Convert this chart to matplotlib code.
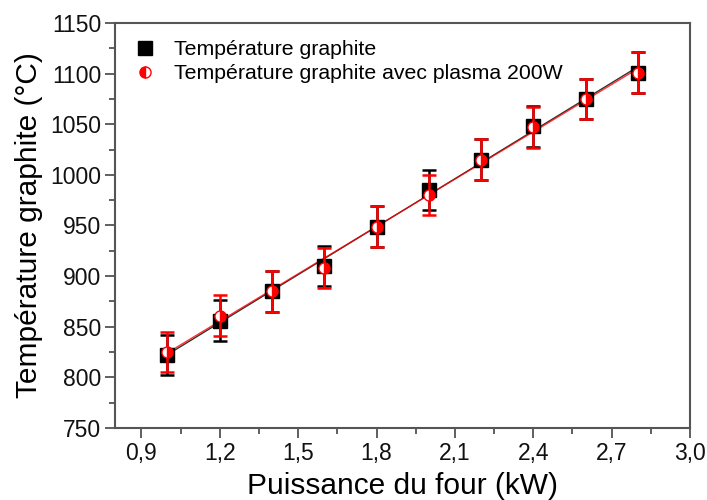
import matplotlib
matplotlib.use('Agg')
import matplotlib.pyplot as plt
from matplotlib.lines import Line2D
from matplotlib.ticker import MultipleLocator, FuncFormatter
import numpy as np

plt.rcParams['font.family'] = ['Liberation Sans', 'DejaVu Sans']

# data
puissance = [1.0, 1.2, 1.4, 1.6, 1.8, 2.0, 2.2, 2.4, 2.6, 2.8]
temp_graphite = [822, 856, 885, 910, 949, 985, 1015, 1048, 1075, 1101]
err_graphite = [20, 20, 20, 20, 20, 20, 20, 20, 20, 20]
temp_plasma = [825, 861, 885, 908, 949, 980, 1015, 1047, 1075, 1101]
err_plasma = [20, 20, 20, 20, 20, 20, 20, 20, 20, 20]

fig = plt.figure(figsize=(7.07, 5.0), dpi=100)
ax = fig.add_axes([0.163, 0.144, 0.813, 0.81])

x = np.array(puissance)

# linear fits
for yv, c in [(temp_graphite, 'black'), (temp_plasma, 'red')]:
    p = np.polyfit(x, yv, 1)
    ax.plot(x, np.polyval(p, x), color=c, lw=1.0, alpha=0.8, zorder=2)

ax.errorbar(x, temp_graphite, yerr=err_graphite, fmt='s', color='black',
            ms=10, ecolor='black', elinewidth=1.8, capsize=5, capthick=1.8, zorder=3)
ax.errorbar(x, temp_plasma, yerr=err_plasma, fmt='o', color='red',
            ms=8, mfc='red', mfcalt='white', fillstyle='right', mec='red',
            ecolor='red', elinewidth=1.8, capsize=5, capthick=1.8, zorder=4)

ax.set_xlim(0.8, 3.0)
ax.set_ylim(750, 1150)
ax.xaxis.set_major_locator(MultipleLocator(0.3))
ax.xaxis.set_minor_locator(MultipleLocator(0.15))
ax.yaxis.set_major_locator(MultipleLocator(50))
ax.yaxis.set_minor_locator(MultipleLocator(25))
ax.xaxis.set_major_formatter(FuncFormatter(lambda v, pos: ('%.1f' % v).replace('.', ',')))

ax.tick_params(which='major', direction='out', length=7, width=1.2, labelsize=16.5, colors='#444444')
ax.tick_params(which='minor', direction='out', length=4, width=1.2, colors='#444444')
ax.tick_params(axis='both', labelcolor='#111111', pad=3)
for s in ax.spines.values():
    s.set_color('#555555')
    s.set_linewidth(1.5)

ax.set_xlabel('Puissance du four (kW)', fontsize=21.5, labelpad=5)
ax.set_ylabel('Température graphite (°C)', fontsize=21.5, labelpad=5)

handles = [
    Line2D([], [], marker='s', color='black', ls='none', ms=10),
    Line2D([], [], marker='o', color='red', ls='none', ms=8, mfc='red',
           mfcalt='white', fillstyle='left', mec='red'),
]
ax.legend(handles, ['Température graphite', 'Température graphite avec plasma 200W'],
          loc='upper left', frameon=False, fontsize=15.3, handletextpad=0.75,
          borderaxespad=0.4, labelspacing=0.25, handlelength=1.2)

fig.savefig('out.png', dpi=100)
